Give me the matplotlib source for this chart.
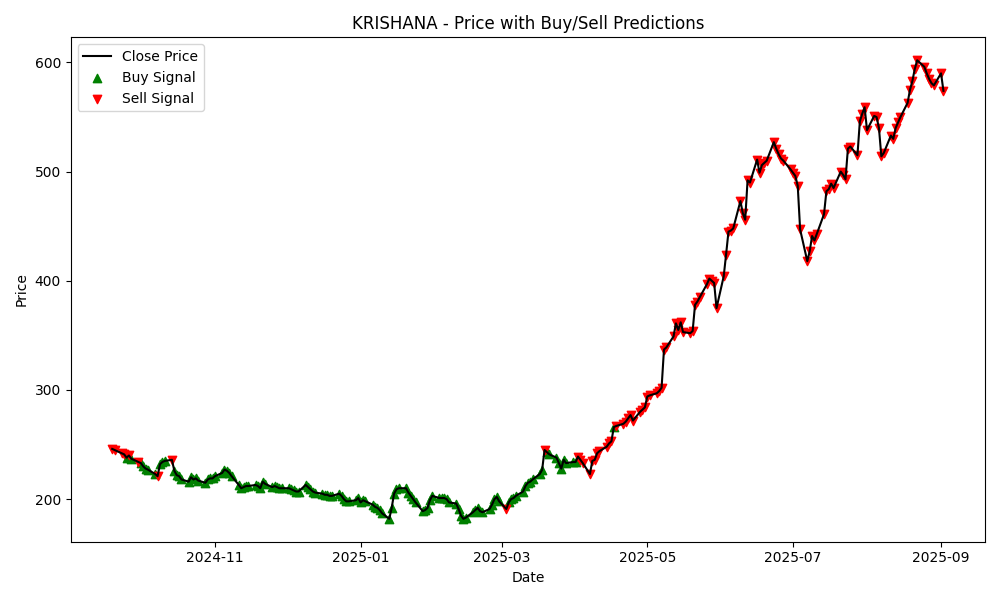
import pandas as pd
import matplotlib
matplotlib.use("Agg")
import matplotlib.pyplot as plt

START = "2024-09-19"
END = "2025-09-02"

# closing prices, one list per month (business days)
sep24 = [246, 245, 242, 241, 238, 240, 237, 234]
oct24 = [233, 230, 228, 227, 223, 221, 232, 234, 235, 236, 226, 222, 221, 218,
         216, 220, 218, 219, 217, 215, 218, 219, 219]
nov24 = [221, 224, 227, 226, 224, 221, 213, 210, 211, 212, 212, 213, 212, 210,
         216, 214, 211, 212, 211, 210, 210]
dec24 = [210, 209, 208, 207, 207, 213, 211, 209, 207, 206, 205, 204, 204, 203,
         203, 205, 203, 200, 198, 198, 199, 201]
jan25 = [197, 199, 198, 195, 193, 192, 190, 187, 182, 192, 205, 209, 210, 210,
         206, 203, 200, 197, 189, 190, 192, 199, 203]
feb25 = [201, 201, 201, 200, 197, 196, 191, 185, 182, 183, 188, 190, 192, 189,
         188, 191, 195, 200, 202, 198]
mar25 = [191, 197, 200, 201, 203, 207, 212, 215, 216, 218, 223, 227, 245, 243,
         241, 238, 233, 228, 236, 233, 234]
apr25 = [234, 239, 236, 233, 223, 235, 236, 242, 244, 248, 251, 253, 266, 267,
         269, 271, 274, 277, 272, 280, 282, 284]
may25 = [294, 295, 297, 299, 302, 337, 339, 349, 361, 355, 362, 353, 352, 354,
         378, 381, 385, 397, 402, 400, 398, 375]
jun25 = [404, 424, 445, 446, 448, 473, 462, 456, 492, 490, 511, 499, 506, 508,
         510, 527, 521, 516, 512, 510, 502]
jul25 = [499, 496, 487, 447, 418, 427, 441, 437, 443, 461, 482, 484, 489, 485,
         500, 497, 493, 521, 523, 515, 546, 553, 559]
aug25 = [538, 551, 550, 540, 514, 517, 533, 530, 540, 545, 550, 563, 575, 583,
         594, 602, 596, 590, 585, 581, 579]
sep25 = [590, 574]

# model signal per day: B = buy, S = sell
sig_sep24 = "SSSSBSBS"
sig_oct24 = "BBBBBSBBBSB" + "B" * 12
sig_nov24 = "B" * 21
sig_dec24 = "B" * 22
sig_jan25 = "B" * 23
sig_feb25 = "B" * 20
sig_mar25 = "S" + "B" * 11 + "S" + "B" * 8
sig_apr25 = "B" + "S" * 11 + "B" + "S" * 9
sig_may25 = "S" * 22
sig_jun25 = "S" * 21
sig_jul25 = "S" * 23
sig_aug25 = "S" * 21
sig_sep25 = "SS"

prices = (sep24 + oct24 + nov24 + dec24 + jan25 + feb25 + mar25 + apr25
          + may25 + jun25 + jul25 + aug25 + sep25)
signals = (sig_sep24 + sig_oct24 + sig_nov24 + sig_dec24 + sig_jan25 + sig_feb25
           + sig_mar25 + sig_apr25 + sig_may25 + sig_jun25 + sig_jul25
           + sig_aug25 + sig_sep25)

dates = pd.bdate_range(START, END)
n = min(len(dates), len(prices), len(signals))
df = pd.DataFrame({"Date": dates[:n], "Close": prices[:n], "Signal": list(signals[:n])})

buys = df[df["Signal"] == "B"]
sells = df[df["Signal"] == "S"]

plt.figure(figsize=(10, 6), dpi=100)
plt.plot(df["Date"], df["Close"], color="black", label="Close Price")
plt.scatter(buys["Date"], buys["Close"], marker="^", color="green", label="Buy Signal")
plt.scatter(sells["Date"], sells["Close"], marker="v", color="red", label="Sell Signal")
plt.title("KRISHANA - Price with Buy/Sell Predictions")
plt.xlabel("Date")
plt.ylabel("Price")
plt.legend(loc="upper left")
plt.tight_layout()
plt.savefig("out.png")
plt.close()
